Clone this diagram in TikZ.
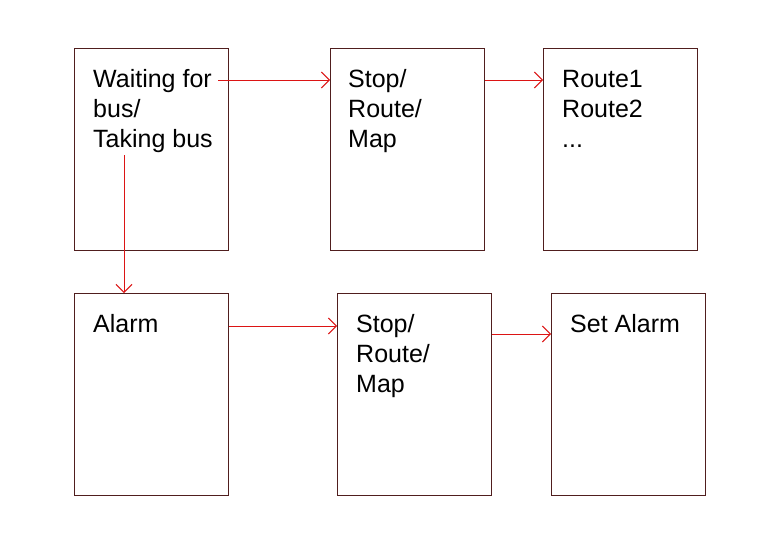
\documentclass[tikz,border=0pt]{standalone}
\usepackage{fontspec}
\setmainfont{Liberation Sans}
\usetikzlibrary{arrows.meta,calc}
\definecolor{frame}{RGB}{80,30,30}
\definecolor{arrred}{RGB}{220,20,20}
\begin{document}
\begin{tikzpicture}[x=1pt,y=-1pt,
  box/.style={draw=frame,line width=1pt,minimum width=154pt,minimum height=202pt,inner sep=0pt,anchor=north west},
  txt/.style={anchor=base west,inner sep=0pt,align=left,font=\fontsize{25}{30}\selectfont},
  arr/.style={draw=arrred,line width=1pt,-{Straight Barb[length=8pt,width=16pt,line width=1pt]}}]
\useasboundingbox (0,0) rectangle (764,546);
\node[box] (A) at (74,48) {};
\node[box] (B) at (330,48) {};
\node[box] (C) at (543,48) {};
\node[box] (D) at (74,293) {};
\node[box] (E) at (337,293) {};
\node[box] (F) at (551,293) {};
\node[txt] (tA) at (93,147) {Waiting for\\bus/\\Taking bus};
\node[txt] (tB) at (348,147) {Stop/\\Route/\\Map};
\node[txt] (tC) at (562,147) {Route1\\Route2\\...};
\node[txt] (tD) at (93,332) {Alarm};
\node[txt] (tE) at (356,392) {Stop/\\Route/\\Map};
\node[txt] (tF) at (570,332) {Set Alarm};
\coordinate (a1) at (218,80);
\coordinate (a2) at (124,155);
\draw[arr] (a1) -- (a1 -| B.west);
\draw[arr] ($(B.north east)+(0,32)$) -- ($(C.north west)+(0,32)$);
\draw[arr] (a2) -- (a2 |- D.north);
\draw[arr] ($(D.north east)+(0,33)$) -- ($(E.north west)+(0,33)$);
\draw[arr] ($(E.north east)+(0,41)$) -- ($(F.north west)+(0,41)$);
\end{tikzpicture}
\end{document}
